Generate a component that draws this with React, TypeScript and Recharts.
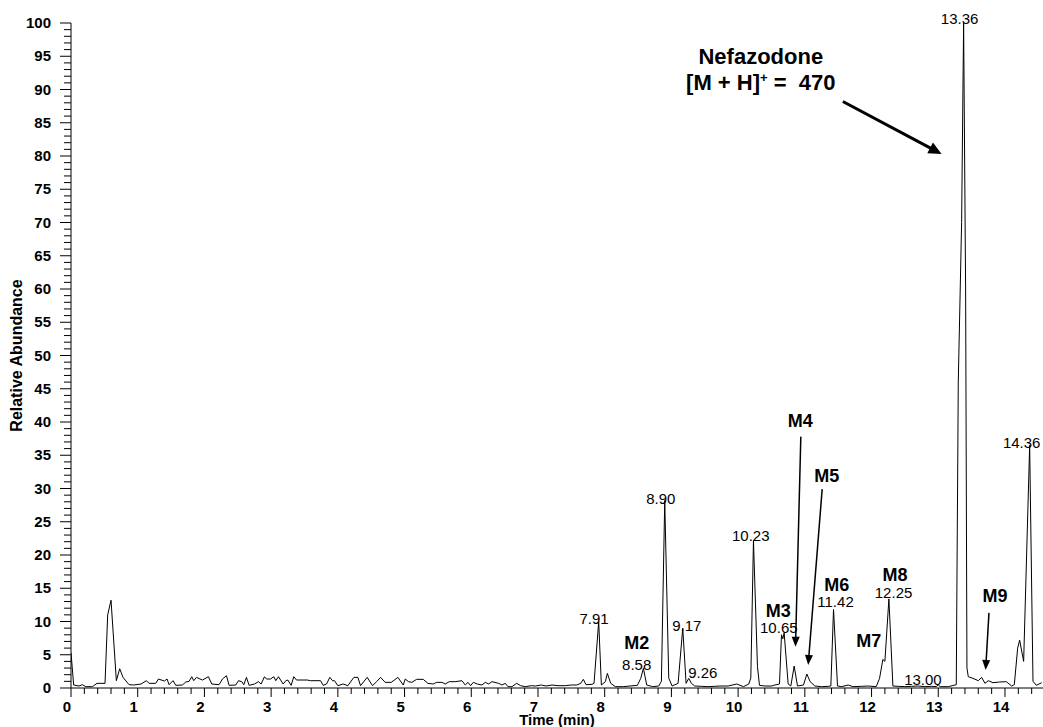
import React from "react";
import {
  LineChart,
  Line,
  XAxis,
  YAxis,
  ReferenceDot,
  ReferenceLine,
} from "recharts";

// retention time (min)
const times = [
  0, 0.04, 0.12, 0.17, 0.22, 0.32, 0.39, 0.51, 0.55, 0.6, 0.68, 0.73, 0.78, 0.87, 0.94,
  1.05, 1.13, 1.17, 1.27, 1.31, 1.4, 1.44, 1.47, 1.53, 1.57, 1.67, 1.72, 1.77, 1.81, 1.84, 1.88, 1.97,
  2.06, 2.11, 2.22, 2.27, 2.33, 2.37, 2.47, 2.51, 2.56, 2.59, 2.63, 2.67, 2.75, 2.81, 2.85, 2.9, 2.93, 2.99,
  3.04, 3.07, 3.11, 3.18, 3.22, 3.25, 3.3, 3.34, 3.38, 3.54, 3.59, 3.74, 3.78, 3.83, 3.88, 3.92, 3.95,
  4.0, 4.08, 4.15, 4.24, 4.3, 4.34, 4.44, 4.52, 4.58, 4.64, 4.71, 4.8, 4.9, 4.98,
  5.01, 5.06, 5.11, 5.18, 5.28, 5.35, 5.43, 5.48, 5.56, 5.61, 5.67, 5.76, 5.86, 5.91, 5.95, 5.99,
  6.03, 6.09, 6.16, 6.21, 6.26, 6.31, 6.41, 6.46, 6.51, 6.55, 6.61, 6.68, 6.74, 6.81, 6.9, 6.96,
  7.05, 7.12, 7.21, 7.3, 7.41, 7.5, 7.58, 7.64, 7.68, 7.72, 7.81, 7.84, 7.91, 7.95,
  8.01, 8.04, 8.09, 8.16, 8.28, 8.38, 8.49, 8.54, 8.58, 8.63, 8.72, 8.81, 8.85, 8.9, 8.96,
  9.01, 9.1, 9.17, 9.22, 9.26, 9.3, 9.35, 9.45, 9.55, 9.65, 9.73, 9.85, 9.98,
  10.08, 10.16, 10.19, 10.23, 10.29, 10.32, 10.4, 10.5, 10.55, 10.62, 10.65, 10.67, 10.69, 10.75, 10.79, 10.84, 10.89, 10.98,
  11.03, 11.08, 11.15, 11.25, 11.35, 11.39, 11.43, 11.49, 11.55, 11.65, 11.72, 11.85, 11.95,
  12.07, 12.12, 12.17, 12.2, 12.26, 12.32, 12.4, 12.5, 12.6, 12.7, 12.8, 12.9, 12.97,
  13.0, 13.03, 13.15, 13.27, 13.3, 13.35, 13.38, 13.41, 13.43, 13.45, 13.52, 13.6, 13.65, 13.7, 13.75, 13.82, 13.92,
  14.02, 14.1, 14.14, 14.19, 14.22, 14.28, 14.37, 14.42, 14.47, 14.55,
];

// relative abundance (%) at each time above
const abundance = [
  5.3, 0.45, 0.3, 0.5, 0.2, 0.2, 0.7, 0.7, 11, 13.2, 1.1, 2.9, 1.6, 0.5, 0.45,
  0.6, 1.1, 0.7, 0.7, 1.35, 1.05, 1.35, 0.5, 1.1, 0.4, 0.45, 0.9, 1.0, 1.7, 1.1, 1.6, 1.2,
  1.7, 0.6, 0.5, 1.35, 1.85, 0.4, 0.45, 1.1, 0.95, 0.5, 1.6, 0.4, 0.6, 0.95, 0.6, 1.7, 1.35, 1.35,
  1.7, 1.1, 1.7, 0.6, 1.1, 1.2, 0.4, 1.7, 1.2, 1.2, 1.1, 1.1, 0.4, 0.6, 1.6, 1.1, 1.1,
  0.35, 0.6, 0.35, 1.6, 1.6, 0.35, 1.6, 0.35, 0.95, 1.6, 0.85, 0.85, 1.6, 0.45,
  1.35, 0.95, 0.85, 1.3, 1.3, 0.7, 0.6, 0.85, 0.85, 0.6, 0.95, 0.95, 1.1, 0.45, 0.85, 0.35,
  0.85, 0.6, 0.45, 0.85, 0.6, 0.95, 0.7, 0.45, 0.7, 0.2, 0.2, 0.7, 0.35, 0.2, 0.35, 0.3,
  0.45, 0.3, 0.45, 0.35, 0.35, 0.45, 0.45, 0.7, 1.3, 0.5, 0.55, 0.7, 10.0, 0.45,
  0.95, 2.2, 0.7, 0.2, 0.2, 0.3, 0.4, 1.45, 2.95, 0.45, 0.2, 0.3, 1.0, 28.2, 1.5,
  0.3, 0.7, 9.0, 0.7, 1.45, 0.7, 0.3, 0.25, 0.2, 0.25, 0.3, 0.3, 0.6,
  0.2, 0.6, 1.5, 22.2, 3.2, 0.4, 0.3, 0.3, 0.45, 0.6, 8.0, 7.4, 8.3, 0.6, 0.3, 3.3, 0.3, 0.45,
  2.1, 0.95, 0.3, 0.2, 0.25, 0.3, 11.8, 0.3, 0.2, 0.45, 0.2, 0.25, 0.3,
  0.2, 1.45, 4.3, 4.0, 13.4, 0.3, 0.25, 0.2, 0.25, 0.3, 0.2, 0.25, 0.2,
  0.45, 0.2, 0.2, 0.5, 46, 70, 100, 60, 3.0, 1.7, 1.45, 1.1, 1.6, 0.7, 1.1, 0.8, 0.9,
  0.95, 0.3, 0.5, 6.0, 7.2, 4.0, 36.5, 1.0, 0.4, 0.8,
];

// retention-time labels printed over the peaks
const peakText = ["7.91", "8.58", "8.90", "9.17", "9.26", "10.23", "10.65", "11.42", "12.25", "13.00", "13.36", "14.36"];
const peakTextTime = [7.84, 8.48, 8.84, 9.23, 9.47, 10.19, 10.61, 11.46, 12.33, 12.77, 13.32, 14.25];
const peakTextLevel = [9.63, 2.71, 27.7, 8.58, 1.5, 22.1, 8.27, 12.2, 13.5, 0.45, 99.9, 36.1];

// metabolite names
const metNames = ["M2", "M3", "M4", "M5", "M6", "M7", "M8", "M9"];
const metTime = [8.48, 10.6, 10.93, 11.33, 11.48, 11.96, 12.35, 13.85];
const metLevel = [5.87, 10.68, 39.3, 31.0, 14.6, 6.17, 16.1, 12.9];

// small arrows pointing at M4, M5, M9: [fromTime, fromLevel, toTime, toLevel]
const metArrows = [
  [10.94, 37.8, 10.86, 6.2],
  [11.26, 29.9, 11.05, 3.46],
  [13.76, 11.3, 13.71, 2.7],
];
const parentArrow = [11.57, 88.2, 13.05, 80.3];

const xMajor = [0, 1, 2, 3, 4, 5, 6, 7, 8, 9, 10, 11, 12, 13, 14];
const yMajor = [0, 5, 10, 15, 20, 25, 30, 35, 40, 45, 50, 55, 60, 65, 70, 75, 80, 85, 90, 95, 100];

const xTicks = Array.from({ length: 73 }, (_, i) => Math.round(i * 2) / 10);
const yTicks = Array.from({ length: 101 }, (_, i) => i);

const data = times.map((t, i) => ({ t, v: abundance[i] }));

const FONT = '"Liberation Sans", Arial, sans-serif';

function XTick({ x, y, payload }: any) {
  const v = payload.value;
  const major = xMajor.some((m) => Math.abs(m - v) < 1e-6);
  return (
    <g>
      <line x1={x} y1={y} x2={x} y2={y + (major ? 9 : 6)} stroke="#000" />
      {major && (
        <text x={x - 4} y={y + 24} textAnchor="middle" fontFamily={FONT} fontSize={15} fontWeight="bold" fill="#000">
          {Math.round(v)}
        </text>
      )}
    </g>
  );
}

function YTick({ x, y, payload }: any) {
  const v = payload.value;
  const major = yMajor.includes(v);
  return (
    <g>
      <line x1={x - (major ? 11 : 7)} y1={y} x2={x} y2={y} stroke="#000" />
      {major && (
        <text x={x - 20} y={y + 5} textAnchor="end" fontFamily={FONT} fontSize={15} fontWeight="bold" fill="#000">
          {v}
        </text>
      )}
    </g>
  );
}

function arrow(width: number, head: number, headW: number) {
  return (p: any) => {
    const { x1, y1, x2, y2 } = p;
    const dx = x2 - x1;
    const dy = y2 - y1;
    const len = Math.hypot(dx, dy) || 1;
    const ux = dx / len;
    const uy = dy / len;
    const bx = x2 - ux * head;
    const by = y2 - uy * head;
    const px = (-uy * headW) / 2;
    const py = (ux * headW) / 2;
    return (
      <g>
        <line x1={x1} y1={y1} x2={bx + ux} y2={by + uy} stroke="#000" strokeWidth={width} />
        <polygon points={`${x2},${y2} ${bx + px},${by + py} ${bx - px},${by - py}`} fill="#000" />
      </g>
    );
  };
}

function textShape(text: string, size: number, bold: boolean) {
  return (p: any) => (
    <text
      x={p.cx}
      y={p.cy}
      textAnchor="middle"
      fontFamily={FONT}
      fontSize={size}
      fontWeight={bold ? "bold" : "normal"}
      fill="#000"
    >
      {text}
    </text>
  );
}

export default function App() {
  return (
    <div style={{ position: "absolute", left: 0, top: 0, width: 1043, height: 727, background: "#fff" }}>
      <LineChart width={1043} height={727} data={data} margin={{ top: 23, right: 0, bottom: 0, left: 0 }}>
        <XAxis
          dataKey="t"
          type="number"
          domain={[0, 14.57]}
          allowDataOverflow
          ticks={xTicks}
          interval={0}
          tick={<XTick />}
          tickSize={0}
          tickMargin={0}
          tickLine={false}
          height={39}
          axisLine={{ stroke: "#000" }}
          label={{
            value: "Time (min)",
            position: "insideBottom",
            offset: 2,
            style: { fontFamily: FONT, fontSize: 15, fontWeight: "bold", fill: "#000" },
          }}
        />
        <YAxis
          type="number"
          domain={[0, 100]}
          ticks={yTicks}
          interval={0}
          tick={<YTick />}
          tickSize={0}
          tickMargin={0}
          tickLine={false}
          width={71}
          axisLine={{ stroke: "#000" }}
          label={{
            value: "Relative Abundance",
            angle: -90,
            position: "insideLeft",
            offset: 16,
            style: { textAnchor: "middle", fontFamily: FONT, fontSize: 16, fontWeight: "bold", fill: "#000" },
          }}
        />
        <Line
          type="linear"
          dataKey="v"
          stroke="#000"
          strokeWidth={1}
          dot={false}
          isAnimationActive={false}
        />
        {peakText.map((s, i) => (
          <ReferenceDot
            key={"p" + s}
            x={peakTextTime[i]}
            y={peakTextLevel[i]}
            ifOverflow="visible"
            shape={textShape(s, 15, false)}
          />
        ))}
        {metNames.map((s, i) => (
          <ReferenceDot
            key={"m" + s}
            x={metTime[i]}
            y={metLevel[i]}
            ifOverflow="visible"
            shape={textShape(s, 18, true)}
          />
        ))}
        {metArrows.map((a, i) => (
          <ReferenceLine
            key={"a" + i}
            segment={[
              { x: a[0], y: a[1] },
              { x: a[2], y: a[3] },
            ]}
            ifOverflow="visible"
            shape={arrow(1.5, 10, 8)}
          />
        ))}
        <ReferenceLine
          segment={[
            { x: parentArrow[0], y: parentArrow[1] },
            { x: parentArrow[2], y: parentArrow[3] },
          ]}
          ifOverflow="visible"
          shape={arrow(3, 13, 12)}
        />
        <ReferenceDot
          x={10.34}
          y={93.9}
          ifOverflow="visible"
          shape={textShape("Nefazodone", 22, true)}
        />
        <ReferenceDot
          x={10.34}
          y={89.9}
          ifOverflow="visible"
          shape={(p: any) => (
            <text
              x={p.cx}
              y={p.cy}
              textAnchor="middle"
              fontFamily={FONT}
              fontSize={22}
              fontWeight="bold"
              fill="#000"
              style={{ whiteSpace: "pre" }}
            >
              [M + H]<tspan dy={-8} fontSize={13}>+</tspan>
              <tspan dy={8}>{" =  470"}</tspan>
            </text>
          )}
        />
      </LineChart>
    </div>
  );
}
